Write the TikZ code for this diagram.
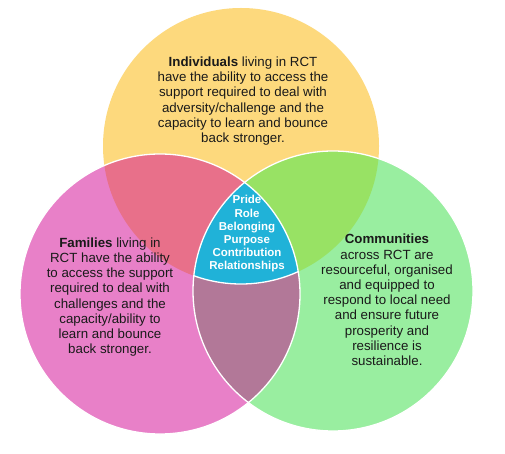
\documentclass[tikz,border=0pt]{standalone}
\usepackage{fontspec}
\setmainfont{Liberation Sans}
\definecolor{cyel}{RGB}{253,217,125}
\definecolor{cpink}{RGB}{232,128,200}
\definecolor{cgreen}{RGB}{153,238,160}
\definecolor{cred}{RGB}{232,112,138}
\definecolor{cyg}{RGB}{152,226,100}
\definecolor{cpurple}{RGB}{178,120,152}
\definecolor{cblue}{RGB}{32,178,216}
\definecolor{ctext}{RGB}{26,26,26}
\tikzset{
  bodytext/.style={align=center, text=ctext, inner sep=0pt, font=\fontsize{13.3}{15.2}\selectfont},
  coretext/.style={align=center, text=white, inner sep=0pt, font=\bfseries\fontsize{11.5}{13.2}\selectfont},
  rim/.style={draw=white, line width=1.3pt}
}
\begin{document}
\begin{tikzpicture}[x=1pt,y=-1pt]
\useasboundingbox (0,0) rectangle (505,454);
\fill[white] (0,0) rectangle (505,454);
\coordinate (Y) at (241,146);
\coordinate (P) at (160,294);
\coordinate (G) at (333,291);
\def\ry{138pt}
\def\rp{140pt}
\def\rg{140pt}
% base circles
\fill[cyel] (Y) circle[radius=\ry];
\fill[cpink] (P) circle[radius=\rp];
\fill[cgreen] (G) circle[radius=\rg];
% pairwise overlaps
\begin{scope}
  \clip (Y) circle[radius=\ry];
  \fill[cred] (P) circle[radius=\rp];
\end{scope}
\begin{scope}
  \clip (Y) circle[radius=\ry];
  \fill[cyg] (G) circle[radius=\rg];
\end{scope}
\begin{scope}
  \clip (P) circle[radius=\rp];
  \fill[cpurple] (G) circle[radius=\rg];
\end{scope}
% triple overlap
\begin{scope}
  \clip (Y) circle[radius=\ry];
  \clip (P) circle[radius=\rp];
  \fill[cblue] (G) circle[radius=\rg];
\end{scope}
% white rims
\draw[rim] (P) circle[radius=\rp];
\draw[rim] (G) circle[radius=\rg];
\begin{scope}
  \clip (P) circle[radius=\rp];
  \clip (G) circle[radius=\rg];
  \draw[rim] (Y) circle[radius=\ry];
\end{scope}
% texts
\node[bodytext] (ind) at (243,101) {\textbf{Individuals} living in RCT\\have the ability to access the\\support required to deal with\\adversity/challenge and the\\capacity to learn and bounce\\back stronger.};
\node[bodytext] (fam) at (110,297) {\textbf{Families} living in\\RCT have the ability\\to access the support\\required to deal with\\challenges and the\\capacity/ability to\\learn and bounce\\back stronger.};
\node[bodytext] (com) at (387,300) {\textbf{Communities}\\across RCT are\\resourceful, organised\\and equipped to\\respond to local need\\and ensure future\\prosperity and\\resilience is\\sustainable.};
\node[coretext] (core) at (247,234) {Pride\\Role\\Belonging\\Purpose\\Contribution\\Relationships};
\end{tikzpicture}
\end{document}
